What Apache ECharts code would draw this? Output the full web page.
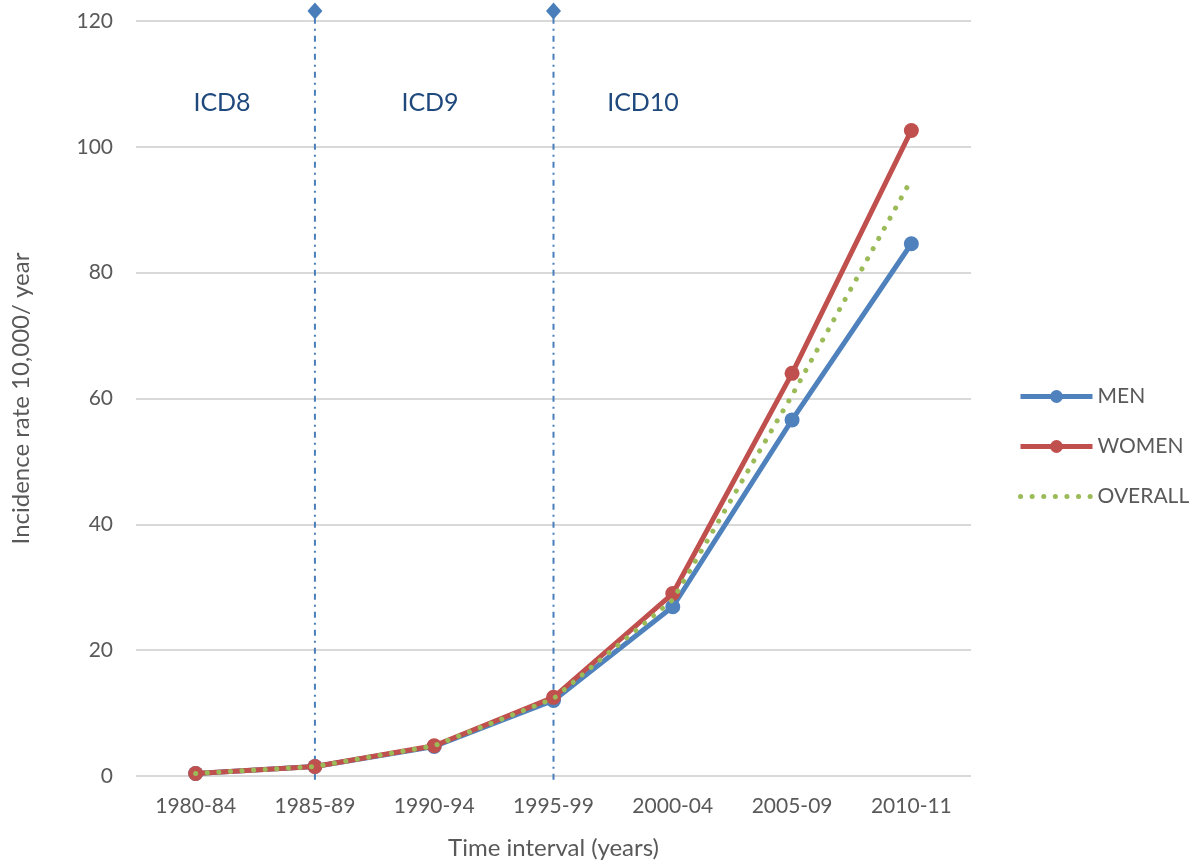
<!DOCTYPE html>
<html>
<head>
<meta charset="utf-8">
<script src="https://cdn.jsdelivr.net/npm/echarts@6/dist/echarts.min.js"></script>
<style>html,body{margin:0;padding:0;background:#fff}#c{width:1201px;height:865px}</style>
</head>
<body>
<div id="c"></div>
<script>
const categories = ['1980-84','1985-89','1990-94','1995-99','2000-04','2005-09','2010-11'];
const men = [0.4, 1.5, 4.7, 12.0, 26.9, 56.6, 84.6];
const women = [0.4, 1.5, 4.8, 12.5, 29.0, 64.0, 102.6];
const overall = [0.4, 1.5, 4.8, 12.3, 28.0, 60.5, 94.8];
const boundaryCats = ['1985-89','1995-99'];
const boundaryBottom = -0.6;
const boundaryTop = 121.6;
const icdLabels = ['ICD8','ICD9','ICD10'];

const FONT = 'Lato';
const boundarySeries = boundaryCats.map((c, i) => ({
  name:'boundary' + i, type:'line', z:1, clip:false, silent:true,
  data:[
    {value:[c, boundaryBottom], symbol:'none'},
    {value:[c, boundaryTop], symbol:'diamond', symbolSize:[15,17]}
  ],
  lineStyle:{color:'#4a7ebb',width:2,type:[6,5,2,5]},
  itemStyle:{color:'#4a7ebb'}
}));

const chart = echarts.init(document.getElementById('c'));
chart.setOption({
  animation:false,
  backgroundColor:'#fff',
  textStyle:{fontFamily:FONT},
  grid:{left:136,right:230,top:21,bottom:86},
  legend:{
    data:['MEN','WOMEN',{name:'OVERALL', itemStyle:{opacity:0}}],
    orient:'vertical', left:1013, top:381,
    itemWidth:72, itemHeight:16, itemGap:29,
    lineStyle:{width:5},
    textStyle:{fontFamily:FONT,fontSize:21,color:'#595959'}
  },
  xAxis:{
    type:'category', data:categories, boundaryGap:true,
    axisLine:{show:false}, axisTick:{show:false},
    axisLabel:{fontSize:21,color:'#595959',margin:20,fontFamily:FONT},
    name:'Time interval (years)', nameLocation:'middle', nameGap:60,
    nameTextStyle:{fontSize:24,color:'#595959',fontFamily:FONT}
  },
  yAxis:{
    type:'value', min:0, max:120, interval:20,
    axisLine:{show:false}, axisTick:{show:false},
    splitLine:{lineStyle:{color:'#d9d9d9',width:2}},
    axisLabel:{fontSize:21,color:'#595959',margin:23,fontFamily:FONT},
    name:'Incidence rate 10,000/ year', nameLocation:'middle', nameGap:103,
    nameTextStyle:{fontSize:24,color:'#595959',fontFamily:FONT}
  },
  series: boundarySeries.concat([
    {
      name:'MEN', type:'line', data:men, z:3,
      symbol:'circle', symbolSize:15,
      lineStyle:{color:'#4f81bd',width:5},
      itemStyle:{color:'#4f81bd'}
    },
    {
      name:'WOMEN', type:'line', data:women, z:4,
      symbol:'circle', symbolSize:15,
      lineStyle:{color:'#c0504d',width:5},
      itemStyle:{color:'#c0504d'}
    },
    {
      name:'OVERALL', type:'line', data:overall, z:5,
      symbol:'none', showSymbol:false,
      lineStyle:{color:'#9bbb59',width:5,type:[0.1,11.5],cap:'round'},
      itemStyle:{color:'#9bbb59'}
    }
  ]),
  graphic:[
    {type:'text',x:222,y:103,style:{text:icdLabels[0],fill:'#1f497d',fontSize:25,fontFamily:FONT,textAlign:'center',textVerticalAlign:'middle'}},
    {type:'text',x:430,y:103,style:{text:icdLabels[1],fill:'#1f497d',fontSize:25,fontFamily:FONT,textAlign:'center',textVerticalAlign:'middle'}},
    {type:'text',x:643,y:103,style:{text:icdLabels[2],fill:'#1f497d',fontSize:25,fontFamily:FONT,textAlign:'center',textVerticalAlign:'middle'}}
  ]
});
</script>
</body>
</html>
